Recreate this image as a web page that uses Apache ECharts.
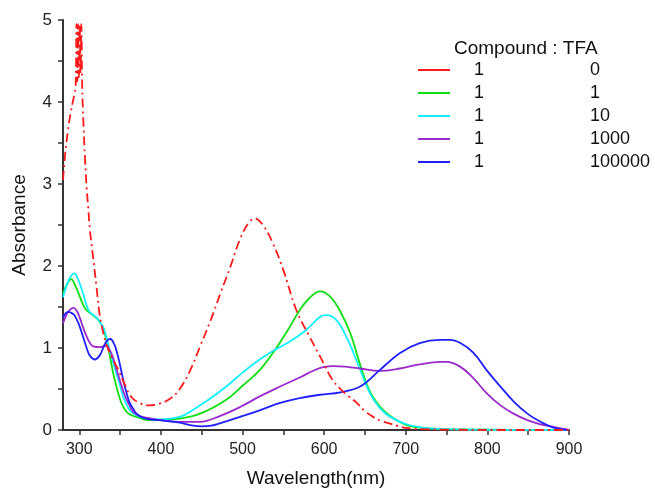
<!DOCTYPE html>
<html>
<head>
<meta charset="utf-8">
<title>Absorbance vs wavelength</title>
<script src="https://cdn.jsdelivr.net/npm/echarts@6/dist/echarts.min.js"></script>
<style>
  html, body { margin: 0; padding: 0; background: #fff; }
  #main { width: 655px; height: 492px; }
</style>
</head>
<body>
<div id="main"></div>
<script>
// ratio Compound : TFA  ->  [wavelength nm, absorbance]
var tfa0 = [[280,3.05],[283,3.4],[286,3.65],[289,3.85],[292,4.0],[294,4.1],[295.5,4.2],[296.5,4.95],[297.5,4.25],[298.5,4.95],[299.5,4.3],[300.5,4.95],[301.5,4.35],[302.5,4.95],[303.5,4.2],[305,3.75],[307,3.3],[309,2.95],[311,2.7],[313,2.44],[317,2.1],[321,1.75],[325,1.4],[329,1.2],[333,1.05],[340,0.88],[347,0.75],[355,0.57],[364,0.4],[374,0.33],[386,0.3],[398,0.32],[411,0.38],[423,0.5],[436,0.73],[448,1.02],[461,1.34],[473,1.67],[485,1.99],[497,2.33],[507,2.52],[515,2.58],[525,2.5],[537,2.28],[550,1.95],[566,1.46],[582,1.14],[598,0.84],[609,0.63],[620,0.5],[630,0.41],[640,0.33],[650,0.23],[660,0.16],[670,0.11],[680,0.08],[690,0.05],[700,0.025],[720,0.01],[750,0.005],[800,0],[900,0]];
var tfa1 = [[280,1.66],[285,1.78],[290,1.84],[295,1.76],[300.5,1.63],[305,1.52],[309,1.46],[317,1.4],[325,1.32],[330,1.22],[333,1.1],[336,0.97],[339,0.82],[342,0.67],[345.5,0.53],[348.5,0.42],[352,0.32],[358,0.22],[364,0.18],[370,0.16],[386,0.12],[399,0.12],[423,0.14],[448,0.2],[480,0.37],[500,0.54],[521,0.73],[540,0.98],[558,1.26],[570,1.46],[582,1.61],[595,1.69],[607,1.63],[619,1.46],[632,1.18],[644,0.8],[656,0.47],[668,0.29],[681,0.17],[701,0.06],[721,0.025],[750,0.01],[800,0.003],[900,0]];
var tfa10 = [[280,1.62],[285,1.78],[290,1.88],[294,1.91],[298,1.85],[304.5,1.67],[308,1.55],[312.7,1.44],[321,1.37],[329,1.26],[333,1.14],[337,0.98],[341,0.84],[345.5,0.69],[350,0.54],[353.6,0.41],[358,0.31],[362,0.24],[370,0.18],[378,0.15],[398,0.13],[423,0.16],[440,0.25],[460,0.38],[480,0.53],[500,0.7],[521,0.86],[540,0.98],[558,1.08],[578,1.22],[595,1.38],[603,1.4],[615,1.34],[628,1.12],[644,0.74],[656,0.45],[668,0.27],[681,0.16],[701,0.07],[721,0.03],[750,0.01],[800,0.003],[900,0]];
var tfa1000 = [[280,1.3],[285,1.42],[290,1.48],[293,1.49],[297,1.45],[300.5,1.37],[305,1.24],[309,1.14],[313,1.06],[317,1.02],[325,1.01],[333,1.03],[337,0.98],[341,0.89],[345,0.76],[349.5,0.61],[354,0.47],[358,0.37],[362,0.29],[366,0.22],[374,0.17],[382,0.15],[399,0.12],[423,0.1],[448,0.1],[472,0.17],[497,0.28],[521,0.41],[546,0.53],[570,0.64],[586,0.72],[600,0.77],[612,0.78],[628,0.77],[644,0.75],[668,0.72],[693,0.75],[717,0.8],[742,0.83],[750,0.83],[767,0.77],[783,0.63],[799,0.45],[816,0.3],[832,0.2],[849,0.12],[865,0.07],[880,0.04],[900,0]];
var tfa100000 = [[280,1.37],[286,1.44],[290,1.43],[294,1.4],[299,1.3],[304.5,1.14],[309,1.0],[312.7,0.91],[319,0.86],[325,0.91],[330,1.02],[334,1.09],[338,1.11],[343,1.04],[346,0.95],[349.5,0.81],[352.5,0.67],[355.7,0.53],[358.5,0.43],[361.8,0.33],[366,0.26],[370,0.2],[378,0.15],[386,0.13],[399,0.12],[423,0.09],[436,0.06],[450,0.045],[460,0.05],[472,0.08],[497,0.16],[521,0.24],[546,0.33],[570,0.39],[595,0.43],[620,0.46],[644,0.53],[668,0.73],[693,0.94],[717,1.06],[742,1.1],[754,1.1],[767,1.06],[783,0.94],[799,0.73],[816,0.53],[832,0.35],[849,0.2],[865,0.1],[881,0.03],[900,0]];

var legendNames = ['0', '1', '10', '1000', '100000'];
var xTicks = [300, 350, 400, 450, 500, 550, 600, 650, 700, 750, 800, 850, 900];
var xLabels = [300, 400, 500, 600, 700, 800, 900];

var chart = echarts.init(document.getElementById('main'));
var font = 'Arial, "Liberation Sans", sans-serif';

function line(name, data, color, dashed) {
  return {
    name: name,
    type: 'line',
    data: data,
    smooth: 0.4,
    symbol: 'none',
    lineStyle: {
      color: color,
      width: 1.8,
      type: dashed ? [9, 4, 2, 4] : 'solid'
    },
    itemStyle: { color: color }
  };
}

var option = {
  animation: false,
  backgroundColor: '#fff',
  textStyle: { fontFamily: font },
  title: {
    text: 'Compound : TFA',
    left: 449,
    top: 34,
    textStyle: { fontSize: 19, fontWeight: 'normal', color: '#111', fontFamily: font }
  },
  legend: {
    orient: 'vertical',
    left: 413,
    top: 56,
    data: legendNames,
    icon: 'rect',
    itemWidth: 32,
    itemHeight: 2,
    itemGap: 5,
    formatter: function (name) {
      return '{a|1}{b|' + name + '}';
    },
    textStyle: {
      fontSize: 18,
      color: '#111',
      lineHeight: 18,
      rich: {
        a: { width: 116, padding: [0, 0, 0, 19], fontSize: 18, color: '#111' },
        b: { fontSize: 18, color: '#111' }
      }
    }
  },
  grid: { left: 63, right: 86, top: 20, bottom: 62, outerBoundsMode: 'none' },
  xAxis: {
    type: 'value',
    min: 280,
    max: 900,
    name: 'Wavelength(nm)',
    nameLocation: 'middle',
    nameGap: 39,
    nameTextStyle: { fontSize: 19, color: '#111' },
    axisLine: { show: true, lineStyle: { color: '#333', width: 2 } },
    axisTick: { show: true, customValues: xTicks, length: 5, lineStyle: { color: '#333', width: 1.5 } },
    axisLabel: { customValues: xLabels, fontSize: 16, color: '#222', margin: 12 },
    splitLine: { show: false }
  },
  yAxis: {
    type: 'value',
    min: 0,
    max: 5,
    interval: 1,
    name: 'Absorbance',
    nameLocation: 'middle',
    nameGap: 34,
    nameTextStyle: { fontSize: 19, color: '#111' },
    axisLine: { show: true, lineStyle: { color: '#333', width: 2 } },
    axisTick: { show: true, length: 5, lineStyle: { color: '#333', width: 1.5 } },
    minorTick: { show: true, splitNumber: 2, length: 5, lineStyle: { color: '#333', width: 1.5 } },
    axisLabel: { fontSize: 17, color: '#222', margin: 11 },
    splitLine: { show: false }
  },
  series: [
    line('1', tfa1, '#11dd11'),
    line('10', tfa10, '#11eeff'),
    line('1000', tfa1000, '#9a2acc'),
    line('100000', tfa100000, '#2020ff'),
    line('0', tfa0, '#ff1a1a', true)
  ]
};

chart.setOption(option);
</script>
</body>
</html>
